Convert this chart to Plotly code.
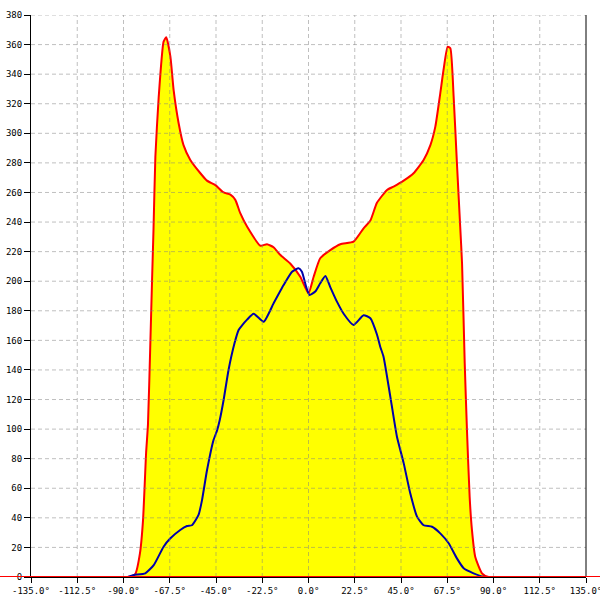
import plotly.graph_objects as go

# ---- data ----
red_x = [-135, -88, -86, -84.3, -82, -80.5, -79, -78.1, -77, -76.1, -75.4, -74.5, -72.9,
         -70.5, -69.2, -67.2, -65.6, -63.2, -60.8, -57.5, -52.6, -49.4, -45.3, -41.3,
         -38, -35.6, -33.2, -29.9, -23.4, -20.2, -17, -13.7, -8.9, -4, 0, 2.5, 5.7,
         10.6, 15.5, 21.9, 26.8, 30.1, 33.3, 38.2, 41.4, 46.3, 51.1, 56, 59.3, 61.7,
         64.1, 65.7, 67.7, 69, 70.6, 72.2, 73.8, 74.7, 76, 77.1, 78.4, 79.5, 81.1,
         84.4, 87.6, 135]
red_y = [0, 0, 0.5, 2, 16, 38.5, 84, 103, 155, 201, 235, 284, 324,
         362, 365, 352, 329, 307, 292, 282, 273, 268, 265, 260,
         258.5, 255, 246, 237, 224, 225, 223, 217.7, 212, 203, 191.8, 203, 215.5,
         221, 225, 226.7, 235.8, 241, 253, 261.7, 264, 268, 273, 282, 292, 304.5,
         327, 343, 358.6, 357.5, 325, 280, 237, 212, 144.5, 99, 54, 32, 13.7,
         2.5, 0, 0]

blue_x = [-135, -88, -85, -79.4, -75.3, -70.5, -67.3, -62.4, -59.1, -56.7, -53.5, -51.8,
          -49.4, -46.2, -44.5, -43.2, -41.3, -38.9, -36, -34, -32.4, -29.9, -26.7,
          -21.8, -17, -12.1, -8, -4.8, -3.2, -1.1, 0.5, 3.3, 5.7, 8.2, 10.6, 13.9,
          17.1, 21.9, 26.8, 30.1, 33.3, 34.9, 36.5, 39.8, 43, 46.3, 49.5, 52.8, 56,
          60.1, 64.1, 68.2, 72.2, 75.5, 80.3, 85.2, 88, 135]
blue_y = [0, 0, 1.3, 2.5, 8, 20.5, 26, 31.8, 34.5, 35, 42, 52,
          72, 92.6, 99, 106, 119.7, 140, 158, 167, 170, 174, 178,
          172.6, 185, 197.4, 206.4, 208.7, 206.4, 196, 190.7, 193, 198.6, 203.5, 196, 186,
          178, 170.4, 177, 175, 164, 155.7, 149, 122, 95, 77, 56.6, 40.8, 35,
          34, 29.5, 22.8, 12.6, 5.9, 2.5, 0.2, 0, 0]

x_ticks = [-135, -112.5, -90, -67.5, -45, -22.5, 0, 22.5, 45, 67.5, 90, 112.5, 135]
x_ticktext = [f"{v:.1f}°" for v in x_ticks]
y_ticks = list(range(0, 381, 20))

fig = go.Figure()
fig.add_trace(go.Scatter(x=red_x, y=red_y, mode="lines",
                         line=dict(color="#ff0000", width=2, shape="spline", smoothing=0.5),
                         fill="tozeroy", fillcolor="#ffff00", hoverinfo="skip"))
fig.add_trace(go.Scatter(x=blue_x, y=blue_y, mode="lines",
                         line=dict(color="#0000aa", width=2, shape="spline", smoothing=0.5),
                         hoverinfo="skip"))

grid_style = dict(color="rgba(128,128,128,0.5)", width=1, dash="4px,3px")
shapes = []
for v in x_ticks[1:-1]:
    shapes.append(dict(type="line", xref="x", yref="paper", x0=v, x1=v, y0=0, y1=1,
                       line=grid_style, layer="above"))
for v in y_ticks[1:]:
    shapes.append(dict(type="line", xref="paper", yref="y", x0=0, x1=1, y0=v, y1=v,
                       line=grid_style, layer="above"))
# right frame line
shapes.append(dict(type="line", xref="paper", yref="paper", x0=1, x1=1, y0=0, y1=1,
                   line=dict(color="black", width=1), layer="above"))
# red baseline running across the whole width
shapes.append(dict(type="line", xref="paper", yref="y", x0=-0.06, x1=1.03, y0=0, y1=0,
                   line=dict(color="#ff0000", width=2), layer="above"))

tick_font = dict(family="DejaVu Sans Mono", size=9, color="black")
fig.update_layout(
    width=600, height=600,
    margin=dict(l=31, r=14, t=15, b=23, autoexpand=False),
    plot_bgcolor="white", paper_bgcolor="white",
    showlegend=False,
    shapes=shapes,
    xaxis=dict(range=[-135, 135], tickvals=x_ticks, ticktext=x_ticktext,
               showgrid=False, zeroline=False, showline=True, linecolor="black",
               linewidth=1, ticks="outside", ticklen=5, tickcolor="black",
               tickfont=tick_font, fixedrange=True, automargin=False,
               ticklabeloverflow="allow"),
    yaxis=dict(range=[0, 380], tickvals=y_ticks,
               showgrid=False, zeroline=False, showline=True, linecolor="black",
               linewidth=1, ticks="outside", ticklen=6, tickcolor="black",
               tickfont=tick_font, fixedrange=True, automargin=False,
               ticklabeloverflow="allow"),
)

fig.write_html("out.html", config={"displayModeBar": False},
               post_script="document.body.style.margin='0px';document.body.style.overflow='hidden';")
